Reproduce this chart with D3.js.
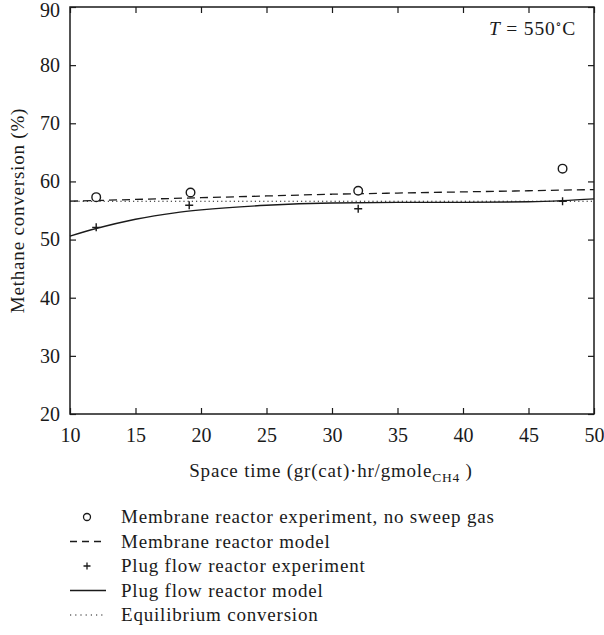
<!DOCTYPE html>
<html>
<head>
<meta charset="utf-8">
<script src="https://cdn.jsdelivr.net/npm/d3@7"></script>
<style>
  html, body { margin: 0; padding: 0; background: #fff; }
  svg { display: block; }
  text { font-family: "Liberation Serif", "DejaVu Serif", serif; fill: #1a1a1a; }
  .wide { letter-spacing: 0.8px; }
</style>
</head>
<body>
<svg id="chart" width="604" height="635"></svg>
<script>
// Space time values (gr(cat)·hr/gmole CH4) and methane conversion (%)
const membraneExpX = [12.0, 19.2, 32.0, 47.6];
const membraneExpY = [57.3, 58.1, 58.4, 62.2];

const plugExpX = [12.0, 19.1, 32.0, 47.6];
const plugExpY = [52.1, 55.9, 55.3, 56.6];

const membraneModelX = [10, 15, 20, 25, 30, 35, 40, 45, 50];
const membraneModelY = [56.6, 56.9, 57.2, 57.5, 57.8, 58.0, 58.2, 58.4, 58.6];

const plugModelX = [10, 12, 15, 18, 20, 25, 30, 35, 40, 45, 47.6, 50];
const plugModelY = [50.6, 51.9, 53.5, 54.6, 55.1, 55.9, 56.3, 56.4, 56.4, 56.5, 56.7, 57.0];

const equilibriumX = [10, 20, 30, 40, 50];
const equilibriumY = [56.6, 56.6, 56.6, 56.6, 56.6];

const xTicks = [10, 15, 20, 25, 30, 35, 40, 45, 50];
const yTicks = [20, 30, 40, 50, 60, 70, 80, 90];

const legendLabels = [
  "Membrane reactor experiment, no sweep gas",
  "Membrane reactor model",
  "Plug flow reactor experiment",
  "Plug flow reactor model",
  "Equilibrium conversion"
];

const svg = d3.select("#chart");
const plotLeft = 70, plotRight = 594, plotTop = 7, plotBottom = 414;

const x = d3.scaleLinear().domain([10, 50]).range([plotLeft, plotRight]);
const y = d3.scaleLinear().domain([20, 90]).range([plotBottom, plotTop]);

const ink = "#1a1a1a";

// axes with inward ticks
const axisStyle = g => {
  g.select(".domain").remove();
  g.selectAll(".tick line").attr("stroke", ink).attr("stroke-width", 1.2);
  g.selectAll(".tick text").attr("font-size", 20).attr("fill", ink);
};

svg.append("g").attr("transform", `translate(0,${plotBottom})`)
  .call(d3.axisBottom(x).tickValues(xTicks).tickSize(-6).tickPadding(14).tickFormat(d3.format("d")))
  .call(axisStyle);
svg.append("g").attr("transform", `translate(${plotLeft},0)`)
  .call(d3.axisLeft(y).tickValues(yTicks).tickSize(-6).tickPadding(10).tickFormat(d3.format("d")))
  .call(axisStyle);
svg.append("g").attr("transform", `translate(0,${plotTop})`)
  .call(d3.axisTop(x).tickValues(xTicks).tickSize(-6).tickFormat(""))
  .call(axisStyle);
svg.append("g").attr("transform", `translate(${plotRight},0)`)
  .call(d3.axisRight(y).tickValues(yTicks).tickSize(-6).tickFormat(""))
  .call(axisStyle);

// keep the top tick label inside the page
svg.selectAll("g .tick text").filter(d => d === 90).attr("dy", "0.45em");

// frame
svg.append("rect")
  .attr("x", plotLeft).attr("y", plotTop)
  .attr("width", plotRight - plotLeft).attr("height", plotBottom - plotTop)
  .attr("fill", "none").attr("stroke", ink).attr("stroke-width", 1.5);

const line = d3.line().x(d => x(d[0])).y(d => y(d[1]));
const curve = d3.line().x(d => x(d[0])).y(d => y(d[1])).curve(d3.curveMonotoneX);

const plot = svg.append("g");

plot.append("path")
  .attr("d", line(d3.zip(equilibriumX, equilibriumY)))
  .attr("fill", "none").attr("stroke", ink).attr("stroke-width", 1.1)
  .attr("stroke-dasharray", "1.2,3");

plot.append("path")
  .attr("d", curve(d3.zip(membraneModelX, membraneModelY)))
  .attr("fill", "none").attr("stroke", ink).attr("stroke-width", 1.3)
  .attr("stroke-dasharray", "8,5");

plot.append("path")
  .attr("d", curve(d3.zip(plugModelX, plugModelY)))
  .attr("fill", "none").attr("stroke", ink).attr("stroke-width", 1.4);

plot.selectAll("circle.mexp")
  .data(d3.zip(membraneExpX, membraneExpY))
  .join("circle")
  .attr("class", "mexp")
  .attr("cx", d => x(d[0])).attr("cy", d => y(d[1]))
  .attr("r", 4.3)
  .attr("fill", "#fff").attr("stroke", ink).attr("stroke-width", 1.4);

const plusPath = (cx, cy, s) => `M${cx - s},${cy}H${cx + s}M${cx},${cy - s}V${cy + s}`;
plot.selectAll("path.pexp")
  .data(d3.zip(plugExpX, plugExpY))
  .join("path")
  .attr("class", "pexp")
  .attr("d", d => plusPath(x(d[0]), y(d[1]), 4))
  .attr("stroke", ink).attr("stroke-width", 1.4);

// annotation
const ann = svg.append("text").attr("x", 576).attr("y", 35)
  .attr("text-anchor", "end").attr("font-size", 19.5).attr("class", "wide");
ann.append("tspan").attr("font-style", "italic").text("T");
ann.append("tspan").text(" = 550");
ann.append("tspan").attr("dy", -7).attr("font-size", 12).text("∘");
ann.append("tspan").attr("dy", 7).text("C");

// axis titles
const xt = svg.append("text").attr("x", 331).attr("y", 477)
  .attr("text-anchor", "middle").attr("font-size", 19).attr("class", "wide");
xt.append("tspan").text("Space time (gr(cat)·hr/gmole");
xt.append("tspan").attr("dy", 5).attr("font-size", 13.5).text("CH4");
xt.append("tspan").attr("dy", -5).text(" )");

svg.append("text")
  .attr("transform", `translate(24,${(plotTop + plotBottom) / 2}) rotate(-90)`)
  .attr("text-anchor", "middle").attr("font-size", 19).attr("class", "wide")
  .text("Methane conversion (%)");

// legend
const legY = d3.scalePoint().domain(legendLabels).range([517, 615]);
const lg = svg.append("g");
const symX0 = 70, symX1 = 106, symC = 87;

lg.selectAll("text")
  .data(legendLabels)
  .join("text")
  .attr("class", "wide")
  .attr("x", 121).attr("y", d => legY(d) + 6)
  .attr("font-size", 19)
  .text(d => d);

lg.append("circle")
  .attr("cx", symC).attr("cy", legY(legendLabels[0]))
  .attr("r", 3.5).attr("fill", "#fff").attr("stroke", ink).attr("stroke-width", 1.3);
lg.append("line")
  .attr("x1", symX0).attr("x2", symX1)
  .attr("y1", legY(legendLabels[1])).attr("y2", legY(legendLabels[1]))
  .attr("stroke", ink).attr("stroke-width", 1.3).attr("stroke-dasharray", "7,5");
lg.append("path")
  .attr("d", plusPath(symC, legY(legendLabels[2]), 3.5))
  .attr("stroke", ink).attr("stroke-width", 1.3);
lg.append("line")
  .attr("x1", symX0).attr("x2", symX1)
  .attr("y1", legY(legendLabels[3])).attr("y2", legY(legendLabels[3]))
  .attr("stroke", ink).attr("stroke-width", 1.4);
lg.append("line")
  .attr("x1", symX0).attr("x2", symX1)
  .attr("y1", legY(legendLabels[4])).attr("y2", legY(legendLabels[4]))
  .attr("stroke", ink).attr("stroke-width", 1.1).attr("stroke-dasharray", "1.2,4");
</script>
</body>
</html>
